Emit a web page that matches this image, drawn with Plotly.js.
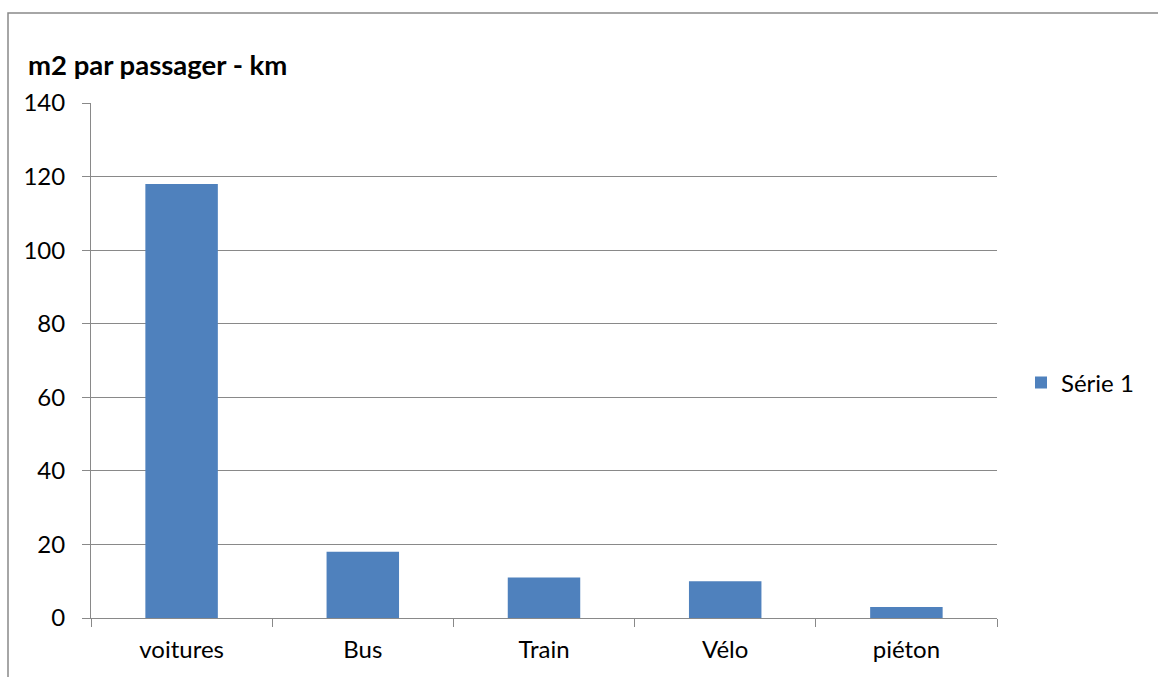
<!DOCTYPE html>
<html>
<head>
<meta charset="utf-8">
<script src="https://cdn.plot.ly/plotly-3.0.1.min.js"></script>
<style>html,body{margin:0;padding:0;background:#fff;}#chart{width:1158px;height:677px;}</style>
</head>
<body>
<div id="chart"></div>
<script>
var categories = ["voitures", "Bus", "Train", "Vélo", "piéton"];
var serie1 = [118, 18, 11, 10, 3];
var seriesName = "Série 1";
var chartTitle = "m2 par passager - km";
var yTicks = [0, 20, 40, 60, 80, 100, 120, 140];

var FONT = "Lato, 'Liberation Sans', sans-serif";
var grey = "#898989";

var trace = {
  type: "bar",
  x: categories,
  y: serie1,
  name: seriesName,
  marker: {color: "#4F81BD"},
  showlegend: true
};

var layout = {
  width: 1158,
  height: 677,
  margin: {l: 91, r: 161, t: 103, b: 59},
  paper_bgcolor: "#ffffff",
  plot_bgcolor: "#ffffff",
  font: {family: FONT, size: 24, color: "#000000"},
  bargap: 0.6,
  title: {
    text: "<b>" + chartTitle + "</b>",
    font: {family: FONT, size: 27.5, color: "#000000"},
    xref: "container", yref: "container",
    x: 28 / 1158, xanchor: "left",
    y: 1 - 65 / 677, yanchor: "middle"
  },
  xaxis: {
    type: "category",
    showgrid: false,
    showline: true,
    linecolor: grey,
    linewidth: 1,
    ticks: "outside",
    tickson: "boundaries",
    ticklen: 8,
    tickcolor: grey,
    tickwidth: 1,
    ticklabelstandoff: 10,
    tickfont: {family: FONT, size: 24, color: "#000"},
    fixedrange: true
  },
  yaxis: {
    range: [0, 140],
    tickvals: yTicks,
    ticktext: yTicks.map(String),
    showgrid: true,
    gridcolor: grey,
    gridwidth: 1,
    showline: true,
    linecolor: grey,
    linewidth: 1,
    ticks: "outside",
    ticklen: 8,
    tickcolor: grey,
    tickwidth: 1,
    ticklabelstandoff: 12,
    zeroline: false,
    tickfont: {family: FONT, size: 24, color: "#000"},
    fixedrange: true
  },
  legend: {
    x: (1021 - 91) / 906, xanchor: "left",
    y: (618 - 383) / 515, yanchor: "middle",
    font: {family: FONT, size: 24, color: "#000"},
    bgcolor: "rgba(0,0,0,0)",
    itemwidth: 30
  },
  shapes: [{
    type: "rect",
    xref: "paper", yref: "paper",
    x0: (8 - 91) / 906, x1: 1.3,
    y0: -0.3, y1: (618 - 13) / 515,
    line: {color: grey, width: 1.5},
    fillcolor: "rgba(0,0,0,0)",
    layer: "below"
  }]
};

Plotly.newPlot("chart", [trace], layout, {displayModeBar: false, staticPlot: true});
</script>
</body>
</html>
